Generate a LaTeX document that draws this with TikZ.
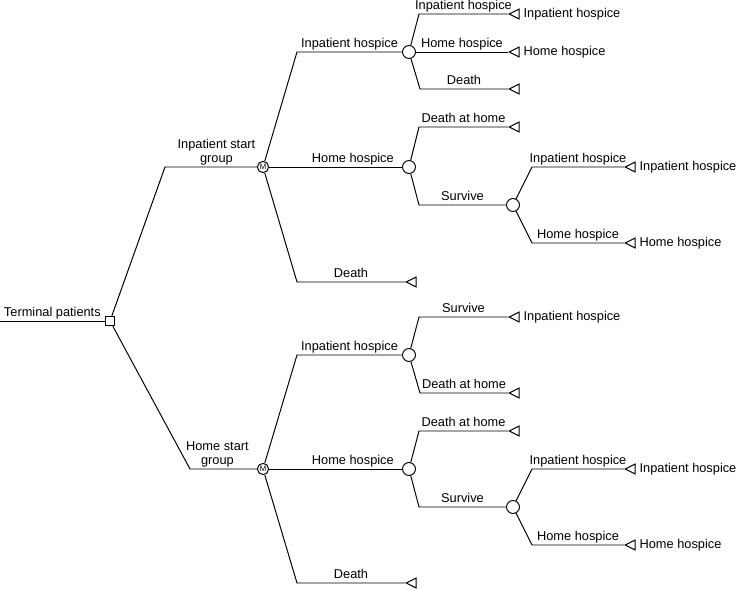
\documentclass[tikz,border=0pt]{standalone}
\usepackage{fontspec}
\setmainfont{Liberation Sans}
\usetikzlibrary{shapes.geometric,positioning}

\begin{document}
\begin{tikzpicture}[x=0.025cm,y=-0.025cm,line width=0.7pt,
  lab/.style={font=\fontsize{9.1}{10}\selectfont,inner sep=1.5pt},
  blab/.style={lab,above,text depth=1.5pt,align=center},
  dec/.style={draw,rectangle,minimum size=6.8pt,inner sep=0pt},
  mnode/.style={draw,circle,minimum size=8pt,inner sep=0pt,
    font=\fontsize{5.5}{5.5}\selectfont},
  chance/.style={draw,circle,minimum size=9.2pt,inner sep=0pt},
  term/.style={draw,isosceles triangle,shape border rotate=180,
    isosceles triangle stretches,minimum width=7pt,minimum height=7pt,
    inner sep=0pt,anchor=apex}]
\useasboundingbox (0,0) rectangle (738,590);
% decision and chance nodes
\coordinate (start) at (0,321);
\node[dec] (root) at (110,321) {};
\node[mnode] (ms) at (263,167) {M};
\node[mnode] (mh) at (263,469) {M};
\node[chance] (ci) at (409,52) {};
\node[chance] (ch) at (409,167) {};
\node[chance] (cs) at (513,205) {};
\node[chance] (ci2) at (409,355) {};
\node[chance] (ch2) at (409,469) {};
\node[chance] (cs2) at (513,507) {};
% terminal nodes
\node[term] (ta) at (508,14) {};
\node[term] (tb) at (508,52) {};
\node[term] (tc) at (508,89) {};
\node[term] (td) at (508,127) {};
\node[term] (te) at (624,167) {};
\node[term] (tf) at (624,243) {};
\node[term] (tg) at (405,282) {};
\node[term] (th) at (508,317) {};
\node[term] (ti) at (508,393) {};
\node[term] (tj) at (508,431) {};
\node[term] (tk) at (624,469) {};
\node[term] (tl) at (624,545) {};
\node[term] (tm) at (405,583) {};
\node[lab,right=1pt of ta] (tal) {Inpatient hospice};
\node[lab,right=1pt of tb] (tbl) {Home hospice};
\node[lab,right=1pt of te] (tel) {Inpatient hospice};
\node[lab,right=1pt of tf] (tfl) {Home hospice};
\node[lab,right=1pt of th] (thl) {Inpatient hospice};
\node[lab,right=1pt of tk] (tkl) {Inpatient hospice};
\node[lab,right=1pt of tl] (tll) {Home hospice};
% branches
\draw (start) -- node[blab]{Terminal patients} (root);
\draw (root) -- (ms -| 165,0) -- node[blab,pos=0.56]{Inpatient start\\group} (ms);
\draw (root) -- (mh -| 190,0) -- node[blab,pos=0.41]{Home start\\group} (mh);
\draw (ms) -- (ci -| 297,0) -- node[blab]{Inpatient hospice} (ci);
\draw (ms) -- node[blab,pos=0.63]{Home hospice} (ch);
\draw (ms) -- (tg -| 297,0) -- node[blab]{Death} (tg);
\draw (ci) -- (ta -| 419,0) -- node[blab]{Inpatient hospice} (ta);
\draw (ci) -- node[blab]{Home hospice} (tb);
\draw (ci) -- (tc -| 420,0) -- node[blab]{Death} (tc);
\draw (ch) -- (td -| 419,0) -- node[blab]{Death at home} (td);
\draw (ch) -- (cs -| 419,0) -- node[blab]{Survive} (cs);
\draw (cs) -- (te -| 532,0) -- node[blab]{Inpatient hospice} (te);
\draw (cs) -- (tf -| 532,0) -- node[blab]{Home hospice} (tf);
\draw (mh) -- (ci2 -| 297,0) -- node[blab]{Inpatient hospice} (ci2);
\draw (mh) -- node[blab,pos=0.63]{Home hospice} (ch2);
\draw (mh) -- (tm -| 297,0) -- node[blab]{Death} (tm);
\draw (ci2) -- (th -| 419,0) -- node[blab]{Survive} (th);
\draw (ci2) -- (ti -| 420,0) -- node[blab]{Death at home} (ti);
\draw (ch2) -- (tj -| 419,0) -- node[blab]{Death at home} (tj);
\draw (ch2) -- (cs2 -| 419,0) -- node[blab]{Survive} (cs2);
\draw (cs2) -- (tk -| 532,0) -- node[blab]{Inpatient hospice} (tk);
\draw (cs2) -- (tl -| 532,0) -- node[blab]{Home hospice} (tl);
\end{tikzpicture}
\end{document}
